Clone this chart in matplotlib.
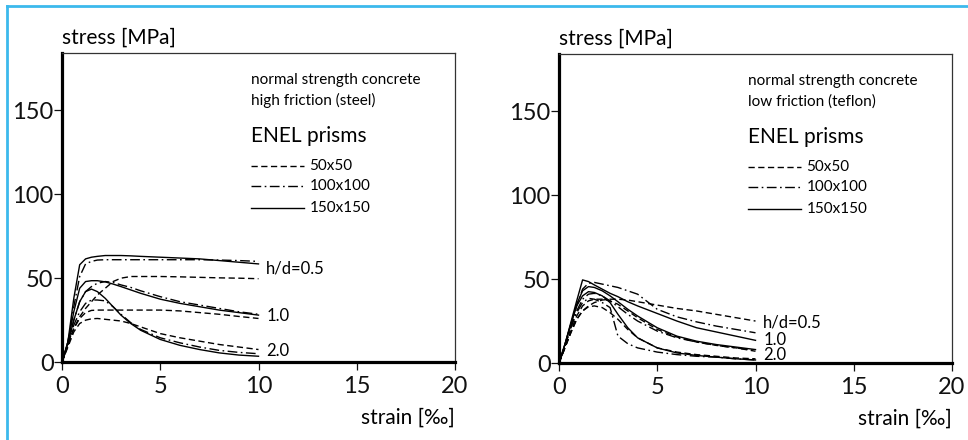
"""
Stress-strain curves of ENEL concrete prisms, high friction (steel)
vs low friction (teflon) loading platens.

Output: out.png
"""
import matplotlib
matplotlib.use("Agg")
import matplotlib.pyplot as plt
from matplotlib.lines import Line2D

plt.rcParams["font.family"] = ["Lato", "DejaVu Sans"]

# strain points [per mille], shared by all curves
strain = [0, 0.3, 0.6, 0.9, 1.2, 1.5, 1.8, 2.2, 2.6, 3, 3.5, 4, 5, 6, 7, 8, 9, 10]

# --- high friction (steel), stress [MPa] ---
steel_05_50 = [0, 11, 20, 27, 32, 36, 40, 44, 48, 50, 51, 51, 51, 50.8, 50.5, 50.2, 50, 49.7]
steel_05_100 = [0, 12, 33, 51, 58.5, 60, 60.8, 61, 61, 61, 61, 61, 61, 61, 61, 60.8, 60.5, 60]
steel_05_150 = [0, 12, 38, 58, 61.5, 62.5, 63, 63.5, 63.5, 63.5, 63.3, 63, 62.5, 62, 61.5, 60.5, 59.5, 58.5]
steel_10_50 = [0, 10, 20, 26, 29.5, 30.8, 31, 31, 31, 31, 31, 31, 31, 30.5, 29.5, 28.5, 27.2, 26]
steel_10_100 = [0, 11, 25, 36, 42, 45, 47, 48, 47.5, 46, 44.5, 42.5, 39, 36, 34, 32, 30, 28.5]
steel_10_150 = [0, 12, 30, 44, 48, 48.5, 48.5, 47.8, 46.5, 45, 43, 41, 37.5, 35, 33, 31, 29.5, 28]
steel_20_50 = [0, 9, 18, 23, 25, 25.8, 26, 25.5, 25, 24.5, 23, 21, 17, 14.5, 12.5, 10.5, 9, 7.5]
steel_20_100 = [0, 10, 22, 30, 35, 37, 37, 36.5, 33, 28.5, 23.5, 19.5, 14.5, 11.5, 9, 7, 5.8, 5]
steel_20_150 = [0, 11, 25, 36, 42, 43.5, 42, 38, 33, 28, 23, 19, 13.5, 10, 7.5, 5.5, 4.2, 3.5]

# --- low friction (teflon), stress [MPa] ---
teflon_05_50 = [0, 9, 18, 26, 31, 34, 36, 37.5, 38, 38, 37.5, 36.5, 34.5, 32.5, 31, 29, 27, 25]
teflon_05_100 = [0, 10, 22, 34, 44, 47.5, 48, 47, 46, 45, 43, 41, 32, 27.5, 24.5, 22, 20, 18]
teflon_05_150 = [0, 11, 24, 37, 49.5, 48.5, 46.5, 44, 41.5, 39.5, 36.5, 34, 29.5, 25, 21, 18.5, 16, 13.5]
teflon_10_50 = [0, 9, 19, 28, 34, 37, 38, 38, 37, 35, 31, 27, 20, 15.5, 12.5, 10.5, 9, 7]
teflon_10_100 = [0, 10, 21, 31, 38, 41, 41.5, 40, 37, 33.5, 29, 25, 19, 15, 12.5, 10.5, 9, 7.5]
teflon_10_150 = [0, 11, 23, 35, 43, 45.5, 45, 43, 40, 36.5, 32, 28, 21, 16, 13, 11, 9.5, 8]
teflon_20_50 = [0, 9, 18, 26, 31, 33.5, 34, 33, 30, 26, 20, 15, 9, 6.5, 5, 4, 3, 2.5]
teflon_20_100 = [0, 10, 21, 30, 36, 38.5, 38, 36, 33, 16, 11.5, 9, 6.5, 5, 4, 3.5, 2.5, 1.8]
teflon_20_150 = [0, 11, 23, 34, 40, 42.5, 42, 40, 36, 29, 21, 15, 9, 6, 4.5, 3.5, 2.5, 1.8]

sizes = ["50x50", "100x100", "150x150"]
ratio_labels = ["h/d=0.5", "1.0", "2.0"]
steel_label_y = [56, 27.4, 6.5]
teflon_label_y = [24.3, 13.6, 4.7]

styles = {
    "50x50": dict(dashes=(4.5, 2.5)),
    "100x100": dict(dashes=(7, 2.5, 1.2, 2.5)),
    "150x150": dict(linestyle="-"),
}

panels = [
    ("high friction (steel)",
     [steel_05_50, steel_05_100, steel_05_150,
      steel_10_50, steel_10_100, steel_10_150,
      steel_20_50, steel_20_100, steel_20_150],
     steel_label_y, [62 / 968, 0.177]),
    ("low friction (teflon)",
     [teflon_05_50, teflon_05_100, teflon_05_150,
      teflon_10_50, teflon_10_100, teflon_10_150,
      teflon_20_50, teflon_20_100, teflon_20_150],
     teflon_label_y, [559 / 968, 0.175]),
]

fig = plt.figure(figsize=(9.68, 4.4), dpi=100)

for title, curves, label_y, (x0, y0) in panels:
    ax = fig.add_axes([x0, y0, 0.406, 0.702])
    for i, stress in enumerate(curves):
        size = sizes[i % 3]
        ax.plot(strain, stress, color="black", linewidth=1.0, **styles[size])

    ax.set_xlim(0, 20)
    ax.set_ylim(0, 184)
    ax.set_xticks([0, 5, 10, 15, 20])
    ax.set_yticks([0, 50, 100, 150])
    ax.tick_params(direction="out", length=6, width=0.9, labelsize=17,
                   colors="#111111")
    ax.tick_params(axis="y", pad=0)
    ax.tick_params(axis="x", pad=4)

    for side in ["left", "bottom"]:
        ax.spines[side].set_linewidth(2.3)
        ax.spines[side].set_color("black")
    for side in ["top", "right"]:
        ax.spines[side].set_linewidth(0.9)
        ax.spines[side].set_color("#333333")

    # annotations inside the plot
    ax.text(9.6, 168, "normal strength concrete", fontsize=11, va="center")
    ax.text(9.6, 156, title, fontsize=11, va="center")
    ax.text(9.6, 134.5, "ENEL prisms", fontsize=15, va="center")
    for size, yy in zip(sizes, [117, 105, 92]):
        ax.plot([9.6, 12.3], [yy, yy], color="black", linewidth=1.0,
                **styles[size])
        ax.text(12.6, yy, size, fontsize=11, va="center")

    for lab, yy in zip(ratio_labels, label_y):
        ax.text(10.4, yy, lab, fontsize=12, va="center")

    # axis titles placed like the original figure
    ax.text(0, 1.05, "stress [MPa]", transform=ax.transAxes, fontsize=15,
            va="center", ha="left")
    ax.text(1, -0.18, "strain [‰]", transform=ax.transAxes, fontsize=15,
            va="center", ha="right")

# light blue frame on the left and top edges
fig.add_artist(Line2D([7 / 968, 7 / 968], [0, 1 - 6 / 440],
                      color="#3cb9ec", linewidth=2.0, transform=fig.transFigure))
fig.add_artist(Line2D([7 / 968, 1], [1 - 6 / 440, 1 - 6 / 440],
                      color="#3cb9ec", linewidth=2.0, transform=fig.transFigure))

fig.savefig("out.png", dpi=100)
print("Saved out.png")
